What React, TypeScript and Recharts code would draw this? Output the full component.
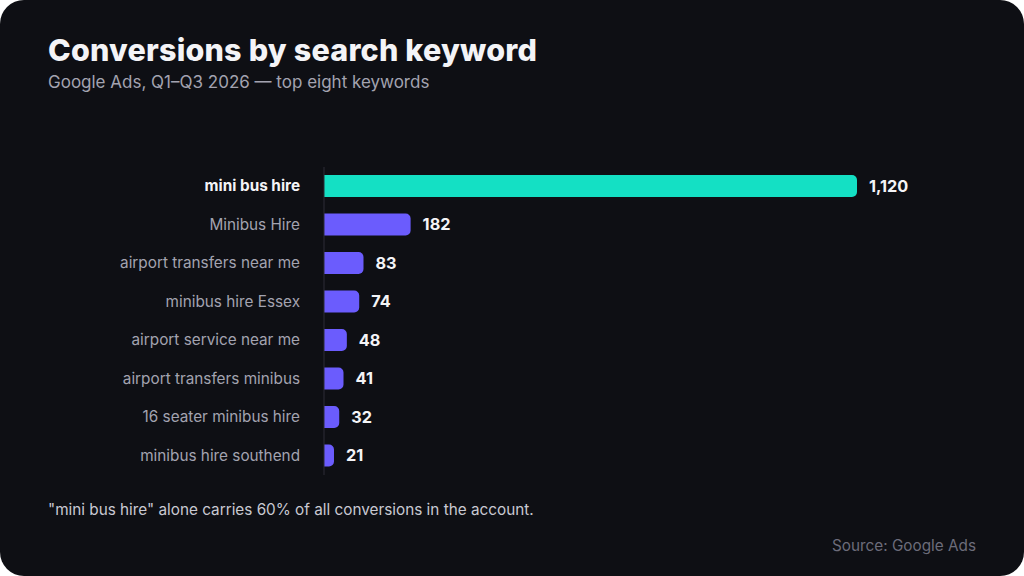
import React from "react";
import { BarChart, Bar, XAxis, YAxis, Cell, LabelList } from "recharts";

const KEYWORDS = [
  "mini bus hire",
  "Minibus Hire",
  "airport transfers near me",
  "minibus hire Essex",
  "airport service near me",
  "airport transfers minibus",
  "16 seater minibus hire",
  "minibus hire southend",
];

const CONVERSIONS = [1120, 182, 83, 74, 48, 41, 32, 21];

const TOP_COLOR = "#14e0c4";
const OTHER_COLOR = "#6b5cfd";
const FONT = "Inter, 'Noto Sans', sans-serif";

const data = KEYWORDS.map((keyword, i) => ({ keyword, value: CONVERSIONS[i] }));

function KeywordTick(props: any) {
  const { x, y, payload, index } = props;
  const top = index === 0;
  return (
    <text
      x={x}
      y={y}
      dy={5}
      textAnchor="end"
      fontFamily={FONT}
      fontSize={15.3}
      fontWeight={top ? 700 : 400}
      fill={top ? "#f4f4f7" : "#a3a3b0"}
    >
      {payload.value}
    </text>
  );
}

export default function App() {
  return (
    <div
      style={{
        position: "relative",
        width: 1024,
        height: 576,
        background: "#0e0f14",
        borderRadius: 24,
        overflow: "hidden",
        fontFamily: FONT,
      }}
    >
      <style>{"body{margin:0;background:#ffffff}"}</style>
      <div
        style={{
          position: "absolute",
          left: 48,
          top: 31,
          fontSize: 30.5,
          fontWeight: 800,
          color: "#f4f4f7",
          letterSpacing: 0.2,
        }}
      >
        Conversions by search keyword
      </div>
      <div
        style={{
          position: "absolute",
          left: 48,
          top: 72,
          fontSize: 17,
          color: "#a3a3b0",
        }}
      >
        Google Ads, Q1–Q3 2026 — top eight keywords
      </div>

      <div style={{ position: "absolute", left: 0, top: 0 }}>
        <BarChart
          width={1024}
          height={576}
          data={data}
          layout="vertical"
          margin={{ top: 167, right: 167, bottom: 101, left: 0 }}
          barCategoryGap={8}
        >
          <XAxis type="number" domain={[0, 1120]} hide />
          <YAxis
            type="category"
            dataKey="keyword"
            width={324}
            tickLine={false}
            axisLine={{ stroke: "#2c2d36", strokeWidth: 1 }}
            tickMargin={18}
            tick={<KeywordTick />}
            interval={0}
          />
          <Bar dataKey="value" barSize={22} radius={[0, 5, 5, 0]} isAnimationActive={false}>
            {data.map((d, i) => (
              <Cell key={d.keyword} fill={i === 0 ? TOP_COLOR : OTHER_COLOR} />
            ))}
            <LabelList
              dataKey="value"
              position="right"
              offset={12}
              formatter={(v: any) => Number(v).toLocaleString("en-US")}
              style={{ fill: "#f4f4f7", fontSize: 16.3, fontWeight: 700, fontFamily: FONT }}
            />
          </Bar>
        </BarChart>
      </div>

      <div
        style={{
          position: "absolute",
          left: 48,
          top: 500,
          fontSize: 15.3,
          color: "#c9c9d2",
        }}
      >
        "mini bus hire" alone carries 60% of all conversions in the account.
      </div>
      <div
        style={{
          position: "absolute",
          right: 48,
          top: 536,
          fontSize: 15.3,
          color: "#6c6c7a",
        }}
      >
        Source: Google Ads
      </div>
    </div>
  );
}
